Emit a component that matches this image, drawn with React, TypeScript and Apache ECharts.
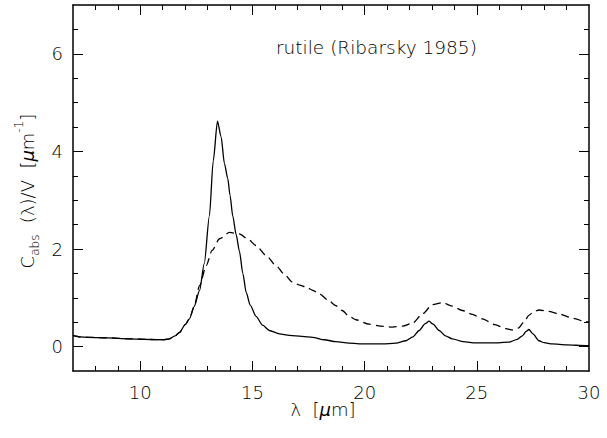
import React, { useEffect, useRef } from "react";
import * as echarts from "echarts";

// wavelength grid (micron) and values for the solid curve
const solidLam = [7.0, 7.3, 7.7, 8.5, 9.5, 10.5, 11.0, 11.3, 11.55, 11.75, 12.0, 12.19, 12.4, 12.64, 12.85, 13.08, 13.25, 13.44, 13.6, 13.75, 13.9, 14.0, 14.12, 14.27, 14.42, 14.57, 14.72, 14.9, 15.16, 15.45, 15.75, 16.2, 16.64, 17.2, 17.68, 18.2, 18.72, 19.3, 20.0, 20.8, 21.4, 21.84, 22.15, 22.43, 22.7, 22.87, 23.05, 23.32, 23.6, 23.91, 24.4, 24.95, 25.7, 26.43, 26.8, 27.03, 27.2, 27.32, 27.5, 27.77, 28.0, 28.36, 29.0, 29.85, 30.0];
const solidVal = [0.23, 0.2, 0.19, 0.18, 0.16, 0.145, 0.14, 0.16, 0.22, 0.29, 0.45, 0.57, 0.82, 1.15, 1.7, 2.68, 3.8, 4.62, 4.3, 3.75, 3.44, 3.1, 2.68, 2.3, 1.95, 1.5, 1.11, 0.85, 0.62, 0.44, 0.33, 0.26, 0.23, 0.21, 0.19, 0.14, 0.1, 0.07, 0.055, 0.055, 0.07, 0.12, 0.2, 0.33, 0.47, 0.52, 0.46, 0.33, 0.22, 0.16, 0.1, 0.075, 0.075, 0.09, 0.15, 0.22, 0.31, 0.35, 0.26, 0.12, 0.08, 0.055, 0.035, 0.02, 0.02];

// dashed curve
const dashLam = [7.0, 7.3, 7.7, 8.5, 9.5, 10.5, 11.0, 11.3, 11.55, 11.75, 12.0, 12.19, 12.4, 12.64, 12.94, 13.2, 13.53, 13.97, 14.42, 14.8, 15.16, 15.6, 16.05, 16.4, 16.79, 17.1, 17.39, 17.7, 17.98, 18.35, 18.72, 19.0, 19.31, 19.61, 20.2, 20.7, 21.24, 21.7, 22.13, 22.58, 23.02, 23.47, 23.9, 24.36, 24.8, 25.25, 25.8, 26.29, 26.6, 26.85, 27.1, 27.32, 27.55, 27.77, 28.2, 28.66, 29.3, 29.85, 30.0];
const dashVal = [0.23, 0.2, 0.19, 0.18, 0.16, 0.145, 0.14, 0.16, 0.22, 0.29, 0.45, 0.57, 0.82, 1.25, 1.66, 1.97, 2.21, 2.34, 2.31, 2.2, 2.07, 1.87, 1.66, 1.49, 1.32, 1.26, 1.22, 1.15, 1.08, 0.96, 0.84, 0.74, 0.62, 0.55, 0.46, 0.42, 0.4, 0.42, 0.48, 0.67, 0.86, 0.9, 0.83, 0.74, 0.66, 0.57, 0.45, 0.37, 0.34, 0.38, 0.5, 0.64, 0.72, 0.75, 0.72, 0.67, 0.58, 0.51, 0.5];

// tick values
const xMajor = [10, 15, 20, 25];
const xLabels = [10, 15, 20, 25, 30];
const xMinor = [8, 9, 11, 12, 13, 14, 16, 17, 18, 19, 21, 22, 23, 24, 26, 27, 28, 29];
const yMajor = [0, 2, 4, 6];
const yMinor = [0.5, 1, 1.5, 2.5, 3, 3.5, 4.5, 5, 5.5, 6.5];

const FONT = "DejaVu Sans";
const INK = "#000";
const TXT = "#000";
const FS = 18;
const FW = 200;

function xAxis(grid: number, pos: string, ticks: number[], len: number, labels: number[] | null, line: boolean) {
  return {
    type: "value",
    gridIndex: grid,
    position: pos,
    min: 7,
    max: 30,
    axisLine: { show: line, onZero: false, lineStyle: { color: INK, width: 1.5 } },
    axisTick: { show: true, inside: true, length: len, customValues: ticks, lineStyle: { color: INK, width: 1 } },
    axisLabel: labels
      ? { show: true, customValues: labels, margin: 12, fontSize: FS, fontWeight: FW, fontFamily: FONT, color: TXT }
      : { show: false },
    splitLine: { show: false },
  };
}

function yAxis(grid: number, pos: string, ticks: number[], len: number, labels: number[] | null, line: boolean) {
  return {
    type: "value",
    gridIndex: grid,
    position: pos,
    min: -0.5,
    max: 7,
    axisLine: { show: line, onZero: false, lineStyle: { color: INK, width: 1.5 } },
    axisTick: { show: true, inside: true, length: len, customValues: ticks, lineStyle: { color: INK, width: 1 } },
    axisLabel: labels
      ? { show: true, customValues: labels, margin: 10, fontSize: FS, fontWeight: FW, fontFamily: FONT, color: TXT }
      : { show: false },
    splitLine: { show: false },
  };
}

export default function App() {
  const ref = useRef<HTMLDivElement>(null);
  useEffect(() => {
    const chart = echarts.init(ref.current!, null, { renderer: "svg" });
    const gridBox = { left: 73, right: 18, top: 5, bottom: 67, containLabel: false };
    const m = { fontSize: FS, fontWeight: FW, fontFamily: FONT, fill: TXT };
    chart.setOption({
      animation: false,
      backgroundColor: "#fff",
      grid: [gridBox, { ...gridBox }],
      xAxis: [
        xAxis(0, "bottom", xMajor, 10, xLabels, true),
        xAxis(0, "top", xMajor, 10, null, true),
        xAxis(1, "bottom", xMinor, 5, null, false),
        xAxis(1, "top", xMinor, 5, null, false),
      ],
      yAxis: [
        yAxis(0, "left", yMajor, 10, yMajor, true),
        yAxis(0, "right", yMajor, 10, null, true),
        yAxis(1, "left", yMinor, 5, null, false),
        yAxis(1, "right", yMinor, 5, null, false),
      ],
      series: [
        {
          type: "line",
          xAxisIndex: 0,
          yAxisIndex: 0,
          data: solidLam.map((x, i) => [x, solidVal[i]]),
          showSymbol: false,
          smooth: 0.25,
          smoothMonotone: "x",
          lineStyle: { color: INK, width: 1.3 },
        },
        {
          type: "line",
          xAxisIndex: 0,
          yAxisIndex: 0,
          data: dashLam.map((x, i) => [x, dashVal[i]]),
          showSymbol: false,
          smooth: 0.25,
          smoothMonotone: "x",
          lineStyle: { color: INK, width: 1.3, type: [8, 5] },
        },
      ],
      graphic: [
        {
          type: "text",
          x: 276,
          y: 47,
          style: {
            text: "rutile (Ribarsky 1985)",
            ...m,
            fontSize: 18.5,
            align: "left",
            verticalAlign: "middle",
          },
        },
        {
          type: "text",
          x: 323,
          y: 409,
          style: {
            text: "{m|λ  [}{i|μ}{m|m]}",
            fill: TXT,
            align: "center",
            verticalAlign: "middle",
            rich: {
              m: { ...m },
              i: { ...m, fontStyle: "italic" },
            },
          },
        },
        {
          type: "text",
          x: 27,
          y: 191,
          rotation: Math.PI / 2,
          style: {
            text: "{m|C}{s|abs}{m|  (λ)/V  [}{i|μ}{m|m}{p|-1}{m|]}",
            fill: TXT,
            align: "center",
            verticalAlign: "middle",
            rich: {
              m: { ...m, lineHeight: 28, verticalAlign: "middle" },
              i: { ...m, fontStyle: "italic", lineHeight: 28, verticalAlign: "middle" },
              s: { ...m, fontSize: 12, lineHeight: 28, verticalAlign: "bottom" },
              p: { ...m, fontSize: 12, lineHeight: 28, verticalAlign: "top" },
            },
          },
        },
      ],
    });
    return () => chart.dispose();
  }, []);
  return <div ref={ref} style={{ position: "fixed", left: 0, top: 0, width: 607, height: 438 }} />;
}
